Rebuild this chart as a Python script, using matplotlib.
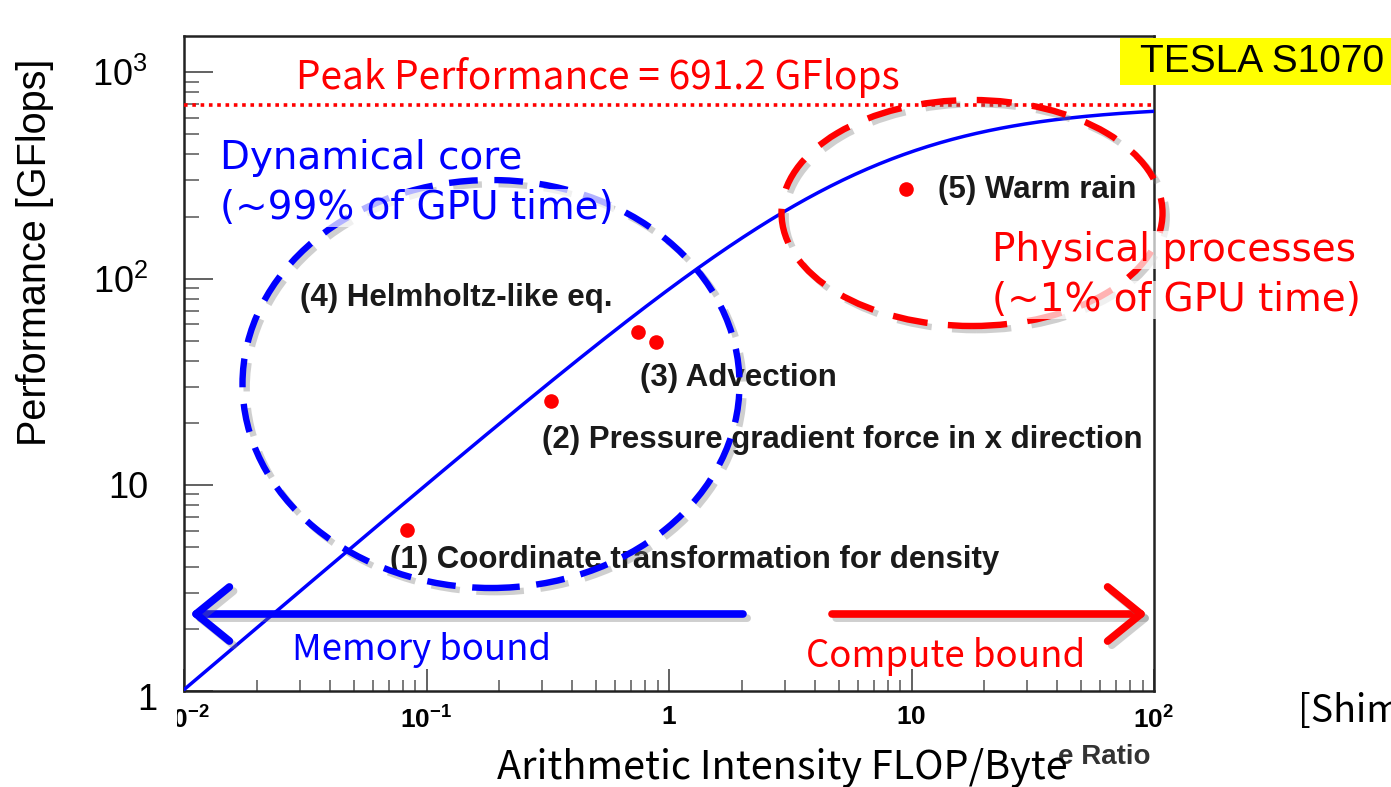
import numpy as np
import matplotlib
matplotlib.use("Agg")
import matplotlib.pyplot as plt
from matplotlib.patches import Ellipse, Rectangle, FancyArrowPatch
import matplotlib.patheffects as pe

plt.rcParams['font.family'] = ['Liberation Sans', 'DejaVu Sans']
plt.rcParams['mathtext.fontset'] = 'custom'
plt.rcParams['mathtext.rm'] = 'Liberation Sans'
plt.rcParams['mathtext.bf'] = 'Liberation Sans:bold'

# roofline of the Tesla S1070 (one GPU)
peak_gflops = 691.2
bandwidth_gbs = 102.0

# measured kernels
kernel_names = ["(1) Coordinate transformation for density",
                "(2) Pressure gradient force in x direction",
                "(3) Advection", "(3) Advection",
                "(5) Warm rain"]
kernel_ai = [0.083, 0.326, 0.745, 0.883, 9.49]
kernel_perf = [6.05, 25.5, 55.2, 49.3, 272.0]

x_ticks = [0.01, 0.1, 1, 10, 100]
x_ticklabels = [r'$\mathbf{10}^{\mathbf{-2}}$', r'$\mathbf{10}^{\mathbf{-1}}$',
                r'$\mathbf{1}$', r'$\mathbf{10}$', r'$\mathbf{10}^{\mathbf{2}}$']
y_ticks = [1, 10, 100, 1000]
y_ticklabels = ['', '10', r'$10^2$', r'$10^3$']

W, H = 1391, 787


def px(x, y):
    # picture pixels (from top left) -> figure fraction
    return x / W, 1 - y / H


fig = plt.figure(figsize=(W / 100, H / 100), dpi=100)
ax = fig.add_axes([184 / W, 1 - 691.3 / H, (1154 - 184) / W, (691.3 - 36) / H])
ax.set_xscale('log')
ax.set_yscale('log')
ax.set_xlim(0.01, 100)
ax.set_ylim(1, 1500)

ai = np.logspace(-2, 2, 400)
roof = 1 / (1 / (bandwidth_gbs * ai) + 1 / peak_gflops)
ax.plot(ai, roof, color='#0000ff', lw=2.5, zorder=3)
ax.axhline(peak_gflops, color='#ff0000', lw=2.6, ls=(0, (1.0, 1.3)), zorder=3)
ax.plot(kernel_ai, kernel_perf, 'o', color='#ff0000', ms=10.5, mec='none', zorder=4)

ax.set_xticks(x_ticks)
ax.set_xticklabels(x_ticklabels)
ax.set_yticks(y_ticks)
ax.set_yticklabels(y_ticklabels)
ax.tick_params(axis='both', which='both', direction='in', color='#555555')
ax.tick_params(axis='x', which='major', length=16, width=1.3, labelsize=19, pad=10)
ax.tick_params(axis='x', which='minor', length=8, width=1.1)
ax.tick_params(axis='y', which='major', length=21, width=1.3, labelsize=26, pad=26)
ax.tick_params(axis='y', which='minor', length=11, width=1.1)
for s in ax.spines.values():
    s.set_linewidth(1.8)
    s.set_color('#222222')

# kernel labels (inside the axes, under the hand-drawn ellipses)
label_pos = [(390, 560), (542, 440), (640, 378), (300, 298), (938, 190)]
label_txt = [kernel_names[0], kernel_names[1], kernel_names[2],
             "(4) Helmholtz-like eq.", kernel_names[4]]
for (lx, ly), t in zip(label_pos, label_txt):
    ax.text(*px(lx, ly), t, transform=fig.transFigure, fontsize=22.5,
            fontweight='bold', color='#1a1a1a', va='center', ha='left', zorder=5)

shadow = [pe.SimpleLineShadow(offset=(3, -3), shadow_color='#777777', alpha=0.35), pe.Normal()]

# dynamical core / physical processes ellipses
e1 = Ellipse(px(491, 384), 497 / W, 408 / H, transform=fig.transFigure, fill=False,
             ec='#0000ff', lw=4.6, ls=(0, (4.5, 2.6)), zorder=2, path_effects=shadow)
e2 = Ellipse(px(972, 213), 381 / W, 226 / H, transform=fig.transFigure, fill=False,
             ec='#ff0000', lw=4.6, ls=(0, (5.5, 3.2)), zorder=2, path_effects=shadow)
fig.add_artist(e1)
fig.add_artist(e2)

# bound arrows
a1 = FancyArrowPatch(px(743, 614), px(190, 614), transform=fig.transFigure,
                     arrowstyle='->,head_length=0.8,head_width=0.65', mutation_scale=30,
                     color='#0000ff', lw=5.5, shrinkA=0, shrinkB=0, zorder=2, path_effects=shadow)
a2 = FancyArrowPatch(px(832, 614), px(1147, 614), transform=fig.transFigure,
                     arrowstyle='->,head_length=0.8,head_width=0.65', mutation_scale=30,
                     color='#ff0000', lw=5.5, shrinkA=0, shrinkB=0, zorder=2, path_effects=shadow)
fig.add_artist(a1)
fig.add_artist(a2)

slide_font = ['Noto Sans CJK JP', 'DejaVu Sans']
hand_font = ['DejaVu Sans']
soft_box = dict(facecolor='white', edgecolor='none', alpha=0.7, pad=0)

fig.text(*px(296, 77), "Peak Performance = 691.2 GFlops", color='#ff0000', fontsize=28,
         family=slide_font, va='center', ha='left',
         bbox=dict(facecolor='white', edgecolor='none', pad=1))
fig.text(*px(220, 158), "Dynamical core", color='#0000ff', fontsize=28,
         family=hand_font, va='center', ha='left', bbox=soft_box)
fig.text(*px(220, 208), "(~99% of GPU time)", color='#0000ff', fontsize=28,
         family=hand_font, va='center', ha='left', bbox=soft_box)
fig.text(*px(992, 250), "Physical processes", color='#ff0000', fontsize=28,
         family=hand_font, va='center', ha='left', bbox=soft_box)
fig.text(*px(992, 300), "(~1% of GPU time)", color='#ff0000', fontsize=28,
         family=hand_font, va='center', ha='left', bbox=soft_box)
fig.text(*px(292, 650), "Memory bound", color='#0000ff', fontsize=26.3,
         family=slide_font, va='center', ha='left')
fig.text(*px(806, 656), "Compute bound", color='#ff0000', fontsize=26.4,
         family=slide_font, va='center', ha='left')

# tesla box
fig.add_artist(Rectangle(px(1120, 85), (1391 - 1120) / W, (85 - 38) / H,
                         transform=fig.transFigure, fc='#ffff00', ec='none', zorder=4))
fig.text(*px(1140, 62), "TESLA S1070", fontsize=28, color='black', va='center', ha='left', zorder=5)
# citation, cut by the right edge as on the slide
fig.text(*px(1298, 712), "[Shim", fontsize=27, family=slide_font, va='center', ha='left')

# cover part of the old 10^-2 label and redraw the y "1"
fig.add_artist(Rectangle(px(95, 745), 82 / W, 50 / H, transform=fig.transFigure,
                         fc='white', ec='none', zorder=4))
fig.text(*px(147, 700), "1", fontsize=26, va='center', ha='center', zorder=5)

# axis titles
fig.text(*px(1058, 757), "e Ratio", fontsize=20, fontweight='bold', color='#333333',
         va='center', ha='left')
fig.text(*px(497, 768), "Arithmetic Intensity FLOP/Byte", fontsize=28.5, family=slide_font,
         va='center', ha='left', zorder=6)
fig.text(*px(35, 252), "Performance [GFlops]", fontsize=28.5, rotation=90,
         va='center', ha='center')

fig.savefig('out.png', dpi=100)
